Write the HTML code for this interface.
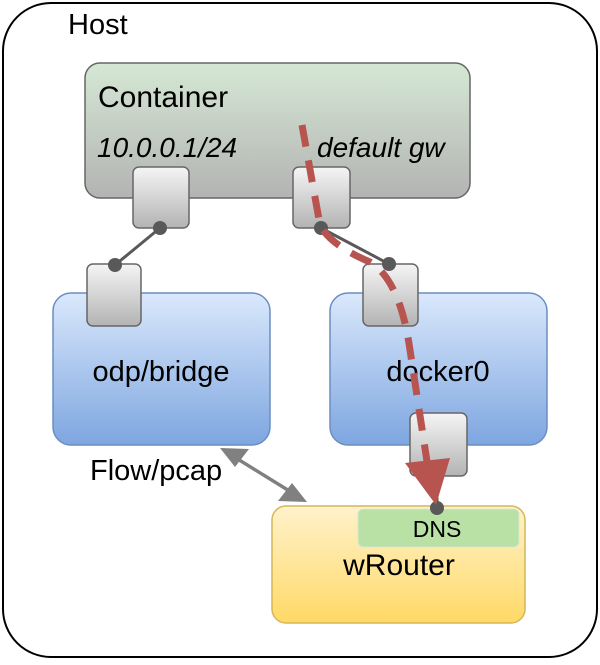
<!DOCTYPE html>
<html><head><style>html,body{margin:0;padding:0;background:#fff}</style></head>
<body>
<svg width="600" height="660" viewBox="0 0 600 660" xmlns="http://www.w3.org/2000/svg" font-family="Liberation Sans, sans-serif">
<defs>
<linearGradient id="gc" x1="0" y1="0" x2="0" y2="1"><stop offset="0" stop-color="#d5e8d4"/><stop offset="1" stop-color="#b3b3b3"/></linearGradient>
<linearGradient id="gb" x1="0" y1="0" x2="0" y2="1"><stop offset="0" stop-color="#dae8fc"/><stop offset="1" stop-color="#7ea6e0"/></linearGradient>
<linearGradient id="gy" x1="0" y1="0" x2="0" y2="1"><stop offset="0" stop-color="#fff2cc"/><stop offset="1" stop-color="#ffd966"/></linearGradient>
<linearGradient id="gp" x1="0" y1="0" x2="0" y2="1"><stop offset="0" stop-color="#f5f5f5"/><stop offset="1" stop-color="#b3b3b3"/></linearGradient>
</defs>
<rect x="3" y="3" width="594" height="654" rx="48" fill="#fff" stroke="#000" stroke-width="2"/>
<text x="68" y="34" font-size="29">Host</text>
<rect x="85" y="63" width="385" height="135" rx="15" fill="url(#gc)" stroke="#666" stroke-width="1.5"/>
<text x="98" y="107" font-size="30">Container</text>
<text x="97" y="157" font-size="28" font-style="italic">10.0.0.1/24</text>
<text x="317" y="157" font-size="28" font-style="italic">default gw</text>
<rect x="53" y="293" width="217" height="152" rx="18" fill="url(#gb)" stroke="#6c8ebf" stroke-width="1.5"/>
<text x="161" y="381" font-size="29" text-anchor="middle">odp/bridge</text>
<rect x="330" y="293" width="217" height="152" rx="18" fill="url(#gb)" stroke="#6c8ebf" stroke-width="1.5"/>
<text x="438" y="381" font-size="29" text-anchor="middle">docker0</text>
<rect x="272" y="506" width="253" height="117" rx="14" fill="url(#gy)" stroke="#d6b656" stroke-width="1.5"/>
<rect x="358" y="509" width="161" height="38" rx="5" fill="#b9e0a5" stroke="#d5e8d4"/>
<text x="437" y="537" font-size="23" text-anchor="middle">DNS</text>
<text x="399" y="575" font-size="30" text-anchor="middle">wRouter</text>
<rect x="133" y="167" width="56" height="61" rx="6" fill="url(#gp)" stroke="#666" stroke-width="1.5"/>
<rect x="293" y="167" width="57" height="61" rx="6" fill="url(#gp)" stroke="#666" stroke-width="1.5"/>
<rect x="87" y="264" width="54" height="62" rx="6" fill="url(#gp)" stroke="#666" stroke-width="1.5"/>
<rect x="363" y="264" width="55" height="62" rx="6" fill="url(#gp)" stroke="#666" stroke-width="1.5"/>
<rect x="410" y="413" width="57" height="63" rx="6" fill="url(#gp)" stroke="#666" stroke-width="1.5"/>
<line x1="160" y1="228" x2="115" y2="265" stroke="#595959" stroke-width="3"/>
<line x1="321" y1="228" x2="389" y2="264" stroke="#595959" stroke-width="3"/>
<line x1="437" y1="476" x2="437" y2="508" stroke="#595959" stroke-width="3"/>
<circle cx="160" cy="228" r="7" fill="#595959"/><circle cx="115" cy="265" r="7" fill="#595959"/>
<circle cx="321" cy="228" r="7" fill="#595959"/><circle cx="389" cy="264" r="7" fill="#595959"/>
<circle cx="437" cy="508" r="7" fill="#595959"/>
<text x="90" y="480" font-size="29">Flow/pcap</text>
<line x1="236" y1="458" x2="291" y2="492" stroke="#808080" stroke-width="3.5"/>
<polygon points="220,448 249,449 235,467" fill="#808080"/>
<polygon points="307,502 278,501 292,483" fill="#808080"/>
<path d="M302,125 L320,225 Q330,245 370,262 Q400,280 410,350 L428,468" fill="none" stroke="#b85450" stroke-width="7" stroke-dasharray="22,14"/>
<polygon points="405,463 450,458 436,505" fill="#b85450"/>
</svg>
</body></html>
